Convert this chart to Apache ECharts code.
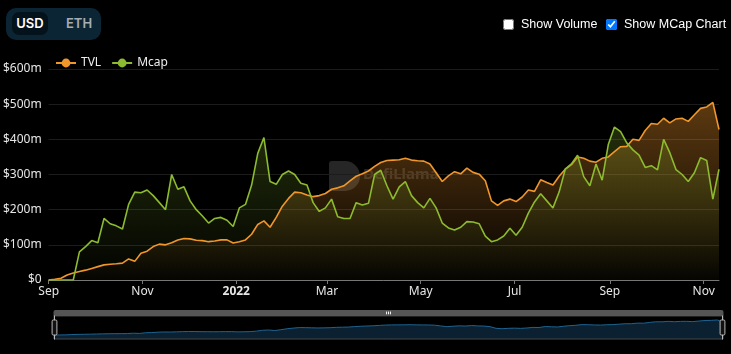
<!DOCTYPE html>
<html>
<head>
<meta charset="utf-8">
<script src="https://cdn.jsdelivr.net/npm/echarts@6/dist/echarts.min.js"></script>
<style>
  html, body { margin: 0; padding: 0; background: #000; }
  #wrap { position: relative; width: 731px; height: 354px; }
  #main { position: absolute; left: 0; top: 0; width: 731px; height: 354px; }
  .toggle {
    position: absolute; left: 6px; top: 8px; width: 95px; height: 32px;
    background: #0c2535; border-radius: 10px; font-family: Inter, sans-serif;
    font-size: 13px; font-weight: 600;
  }
  .toggle .sel {
    position: absolute; left: 6px; top: 4px; width: 36px; height: 23px;
    background: #04121b; border-radius: 7px; color: #fff; line-height: 23px; text-align: center;
  }
  .toggle .off { position: absolute; left: 60px; top: 4px; line-height: 23px; color: #a5adb3; }
  .opt {
    position: absolute; top: 17px; white-space: nowrap; display: flex; align-items: center;
    font-family: "Liberation Sans", Arial, sans-serif; font-size: 12.5px; color: #fff;
  }
  .opt input { width: 11px; height: 11px; margin: 0 7px 0 0; }
</style>
</head>
<body>
<div id="wrap">
  <div id="main"></div>
  <div class="toggle"><div class="sel">USD</div><div class="off">ETH</div></div>
  <label class="opt" style="left:503px"><input type="checkbox">Show Volume</label>
  <label class="opt" style="left:606px"><input type="checkbox" checked>Show MCap Chart</label>
</div>
<script>
// samples every 4 days starting 2021-09-01, values in $m
let startDate = Date.UTC(2021, 8, 1);
let stepDays = 4;

let tvl = [
  0, 2, 5, 14, 20, 24, 28, 33, 38, 43,
  45, 46, 48, 60, 53, 76, 82, 95, 102, 100,
  106, 114, 118, 117, 113, 112, 109, 111, 114, 114,
  105, 109, 114, 130, 158, 168, 150, 178, 210, 232,
  250, 248, 242, 237, 240, 246, 258, 262, 268, 282,
  295, 302, 310, 323, 334, 340, 341, 342, 346, 341,
  339, 338, 330, 305, 280, 296, 308, 302, 318, 306,
  301, 282, 225, 212, 225, 230, 223, 236, 256, 252,
  285, 277, 270, 295, 315, 328, 350, 346, 338, 335,
  346, 350, 365, 379, 380, 400, 397, 425, 445, 443,
  460, 447, 458, 460, 451, 470, 488, 492, 505, 428
];

let mcap = [
  0, 0, 0, 0, 0, 80, 95, 112, 106, 175,
  160, 154, 145, 215, 250, 248, 256, 240, 220, 200,
  300, 258, 265, 225, 200, 182, 162, 175, 178, 170,
  152, 205, 215, 270, 360, 405, 280, 272, 300, 310,
  300, 275, 270, 220, 195, 205, 230, 180, 175, 175,
  220, 213, 218, 300, 312, 268, 230, 265, 280, 240,
  220, 205, 232, 205, 162, 148, 142, 150, 166, 165,
  160, 125, 109, 114, 125, 147, 127, 150, 190, 222,
  245, 225, 205, 250, 315, 330, 355, 294, 268, 330,
  284, 385, 435, 422, 390, 370, 355, 320, 325, 313,
  400, 362, 314, 300, 280, 305, 348, 340, 230, 315
];

let yTicks = [0, 100, 200, 300, 400, 500, 600];

let tvlColor = "#f0962a";
let mcapColor = "#8dbb2f";

let toPairs = (arr) => arr.map((v, i) => [startDate + i * stepDays * 86400000, v]);

let fade = (hex, top) => {
  let r = parseInt(hex.slice(1, 3), 16), g = parseInt(hex.slice(3, 5), 16), b = parseInt(hex.slice(5, 7), 16);
  return new echarts.graphic.LinearGradient(0, 0, 0, 1, [
    { offset: 0, color: `rgba(${r},${g},${b},${top})` },
    { offset: 1, color: `rgba(${r},${g},${b},0.02)` },
  ]);
};

let myChart = echarts.init(document.getElementById("main"), null, { renderer: "canvas" });

let labelFont = "'Noto Sans', sans-serif";

let option = {
  backgroundColor: "#000",
  animation: false,
  textStyle: { fontFamily: labelFont },
  grid: { left: 48, right: 12, top: 69, bottom: 74 },
  legend: {
    left: 50,
    top: 52,
    itemWidth: 20,
    itemHeight: 11,
    itemGap: 10,
    textStyle: { color: "#eee", fontSize: 12, fontFamily: labelFont },
    data: ["TVL", "Mcap"],
  },
  graphic: [
    {
      type: "rect",
      shape: { x: 329, y: 161, width: 31, height: 30, r: [3, 15, 15, 3] },
      style: { fill: "rgba(150,150,150,0.25)" },
      silent: true,
    },
    {
      type: "text",
      left: 363,
      top: 167,
      style: { text: "DefiLlama", fill: "rgba(200,200,200,0.18)", font: "bold 15px 'Noto Sans', sans-serif" },
      silent: true,
    },
  ],
  xAxis: {
    type: "time",
    splitNumber: 7,
    axisLine: { lineStyle: { color: "#777" } },
    axisTick: { show: true, length: 4, lineStyle: { color: "#777" } },
    axisLabel: { color: "#e6e6e6", fontSize: 12, margin: 6 },
    splitLine: { show: false },
  },
  yAxis: {
    type: "value",
    min: yTicks[0],
    max: yTicks[yTicks.length - 1],
    interval: 100,
    axisLine: { show: false },
    axisTick: { show: false },
    axisLabel: {
      color: "#e6e6e6",
      fontSize: 12,
      margin: 7,
      formatter: (v) => (v === 0 ? "$0" : "$" + v + "m"),
    },
    splitLine: { lineStyle: { color: "#1c1c1c" } },
  },
  dataZoom: [
    {
      type: "slider",
      start: 0,
      end: 100,
      left: 51,
      right: 10,
      top: 310,
      height: 24,
      showDetail: false,
      backgroundColor: "rgba(0,0,0,0)",
      borderColor: "#444",
      fillerColor: "rgba(0,0,0,0)",
      dataBackground: {
        lineStyle: { color: "#1d6390", width: 1, opacity: 1 },
        areaStyle: { color: "#0b2132", opacity: 1 },
      },
      selectedDataBackground: {
        lineStyle: { color: "#1d6390", width: 1, opacity: 1 },
        areaStyle: { color: "#0b2132", opacity: 1 },
      },
      handleStyle: { color: "#111", borderColor: "#bbb" },
      moveHandleSize: 6,
      moveHandleStyle: { color: "#555", opacity: 1 },
    },
  ],
  series: [
    {
      name: "TVL",
      type: "line",
      data: toPairs(tvl),
      symbol: "none",
      color: tvlColor,
      lineStyle: { width: 1.6, color: tvlColor },
      areaStyle: { color: fade(tvlColor, 0.55) },
    },
    {
      name: "Mcap",
      type: "line",
      data: toPairs(mcap),
      symbol: "none",
      color: mcapColor,
      lineStyle: { width: 1.6, color: mcapColor },
      areaStyle: { color: fade(mcapColor, 0.35) },
    },
  ],
};

myChart.setOption(option);
</script>
</body>
</html>
